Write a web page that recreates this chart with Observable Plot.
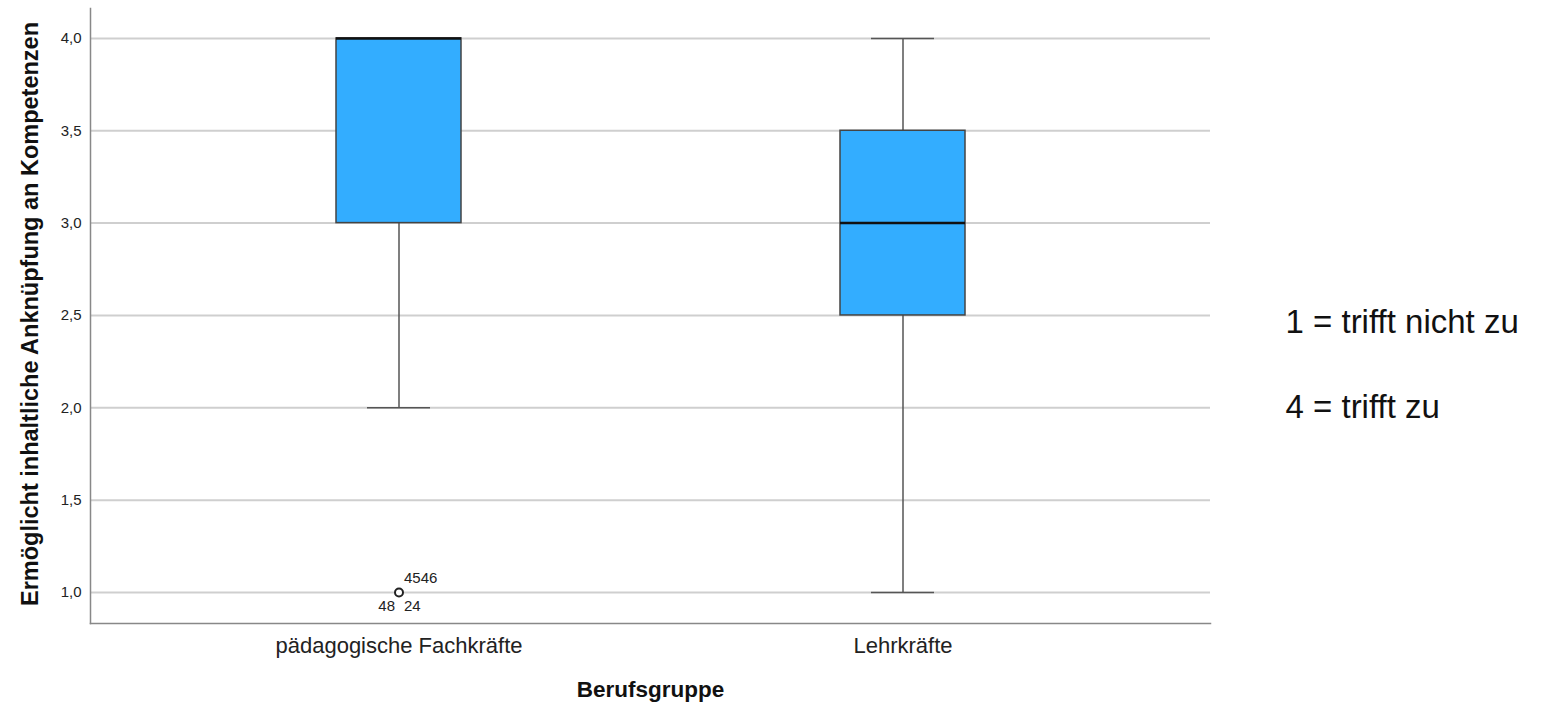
<!DOCTYPE html>
<html><head><meta charset="utf-8">
<script src="https://cdn.jsdelivr.net/npm/d3@7"></script>
<script src="https://cdn.jsdelivr.net/npm/@observablehq/plot@0.6"></script>
<style>body{margin:0;background:#fff;font-family:"Liberation Sans",Arial,sans-serif;}</style>
</head><body><div id="chart"></div>
<script>
const categories = ["pädagogische Fachkräfte", "Lehrkräfte"];
const q1 = [3.0, 2.5];
const median = [4.0, 3.0];
const q3 = [4.0, 3.5];
const whiskerLow = [2.0, 1.0];
const whiskerHigh = [4.0, 4.0];
const outlierGroup = ["pädagogische Fachkräfte"];
const outlierValue = [1.0];
const outlierLabels = [
  {label: "4546", pos: "ur"},
  {label: "48", pos: "ll"},
  {label: "24", pos: "lr"}
];
const yTicks = [1.0, 1.5, 2.0, 2.5, 3.0, 3.5, 4.0];
const legendLines = ["1 = trifft nicht zu", "4 = trifft zu"];

const boxes = categories.map((c, i) => ({cat: c, q1: q1[i], med: median[i], q3: q3[i], lo: whiskerLow[i], hi: whiskerHigh[i]}));
const outliers = outlierGroup.map((c, i) => ({cat: c, v: outlierValue[i]}));
const olab = outlierLabels.map(d => ({...d, cat: outlierGroup[0], v: outlierValue[0]}));
const fmt = d => d.toFixed(1).replace(".", ",");
const font = "Liberation Sans, Arial, sans-serif";

const chart = Plot.plot({
  width: 1548, height: 705,
  marginLeft: 90, marginRight: 338, marginTop: 8, marginBottom: 82,
  style: {fontFamily: font, color: "#222", background: "#fff"},
  x: {domain: categories, paddingInner: 0.752, paddingOuter: 0.487, label: null},
  y: {domain: [0.832, 4.162], label: null},
  marks: [
    Plot.gridY(yTicks, {stroke: "#cfcfcf", strokeOpacity: 1, strokeWidth: 2}),
    Plot.frame({anchor: "left", stroke: "#888", strokeWidth: 1.5}),
    Plot.frame({anchor: "bottom", stroke: "#888", strokeWidth: 1.5}),
    Plot.axisY(yTicks, {tickSize: 0, tickPadding: 9, tickFormat: fmt, fontSize: 15, label: null}),
    Plot.axisX({tickSize: 0, tickPadding: 14, fontSize: 22, label: null}),
    Plot.ruleX(boxes, {x: "cat", y1: "lo", y2: "q1", stroke: "#555", strokeWidth: 1.5}),
    Plot.ruleX(boxes, {x: "cat", y1: "q3", y2: "hi", stroke: "#555", strokeWidth: 1.5}),
    Plot.tickY(boxes, {x: "cat", y: "lo", stroke: "#555", strokeWidth: 1.5, insetLeft: 31, insetRight: 31}),
    Plot.tickY(boxes, {x: "cat", y: "hi", stroke: "#555", strokeWidth: 1.5, insetLeft: 31, insetRight: 31}),
    Plot.barY(boxes, {x: "cat", y1: "q1", y2: "q3", fill: "#33adff", stroke: "#444", strokeWidth: 1.5}),
    Plot.tickY(boxes, {x: "cat", y: "med", stroke: "#111", strokeWidth: 2.5}),
    Plot.dot(outliers, {x: "cat", y: "v", r: 4, fill: "#fff", stroke: "#222", strokeWidth: 2}),
    Plot.text(olab.filter(d => d.pos === "ur"), {x: "cat", y: "v", text: "label", textAnchor: "start", dx: 5, dy: -14, fontSize: 15, fill: "#222"}),
    Plot.text(olab.filter(d => d.pos === "ll"), {x: "cat", y: "v", text: "label", textAnchor: "end", dx: -4, dy: 14, fontSize: 15, fill: "#222"}),
    Plot.text(olab.filter(d => d.pos === "lr"), {x: "cat", y: "v", text: "label", textAnchor: "start", dx: 5, dy: 14, fontSize: 15, fill: "#222"}),
    Plot.text(["Ermöglicht inhaltliche Anknüpfung an Kompetenzen"], {frameAnchor: "left", dx: -60, dy: -2, rotate: -90, fontSize: 23.5, fontWeight: "bold", fill: "#111", textAnchor: "middle"}),
    Plot.text(["Berufsgruppe"], {frameAnchor: "bottom", dy: 73, fontSize: 22.5, fontWeight: "bold", fill: "#111"}),
    Plot.text([legendLines[0]], {frameAnchor: "right", dx: 75, dy: 6, textAnchor: "start", fontSize: 33, fill: "#111"}),
    Plot.text([legendLines[1]], {frameAnchor: "right", dx: 75, dy: 91, textAnchor: "start", fontSize: 33, fill: "#111"})
  ]
});
document.getElementById("chart").append(chart);
</script></body></html>
